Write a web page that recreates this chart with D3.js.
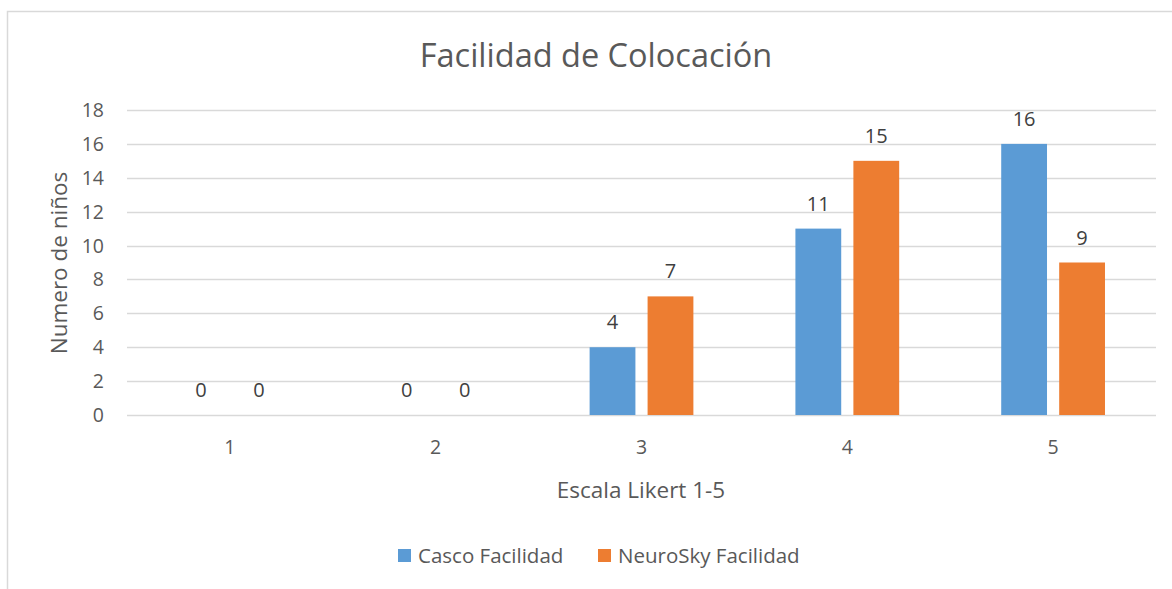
<!DOCTYPE html>
<html>
<head>
<meta charset="utf-8">
<script src="https://cdnjs.cloudflare.com/ajax/libs/d3/7.8.5/d3.min.js"></script>
<style>
  body { margin: 0; background: #fff; }
  svg { display: block; font-family: "Open Sans", Lato, sans-serif; }
</style>
</head>
<body>
<svg id="chart" width="1172" height="589"></svg>
<script>
// chart data
const categories = ['1', '2', '3', '4', '5'];
const seriesNames = ['Casco Facilidad', 'NeuroSky Facilidad'];
const cascoValues = [0, 0, 4, 11, 16];
const neuroskyValues = [0, 0, 7, 15, 9];
const yTicks = [0, 2, 4, 6, 8, 10, 12, 14, 16, 18];

const colors = ['#5B9BD5', '#ED7D31'];
const width = 1172, height = 589;
const margin = {left: 127, right: 16, top: 110, bottom: 174};

const svg = d3.select('#chart');

// chart area border (only top/left visible in the crop)
svg.append('rect')
  .attr('x', 7.5).attr('y', 11.5)
  .attr('width', width + 20).attr('height', height + 20)
  .style('fill', 'none')
  .style('stroke', '#D9D9D9')
  .style('stroke-width', 1.5);

const x = d3.scaleBand()
  .domain(categories)
  .range([margin.left, width - margin.right])
  .paddingInner(0).paddingOuter(0);

const xSub = d3.scaleBand()
  .domain(seriesNames)
  .range([0, x.bandwidth()])
  .paddingInner(0.21)
  .paddingOuter(0.88);

const y = d3.scaleLinear()
  .domain([0, 18])
  .range([height - margin.bottom, margin.top]);

// gridlines
svg.append('g')
  .selectAll('line')
  .data(yTicks)
  .enter().append('line')
  .attr('x1', margin.left)
  .attr('x2', width - margin.right)
  .attr('y1', d => Math.round(y(d)) + 0.5)
  .attr('y2', d => Math.round(y(d)) + 0.5)
  .style('stroke', '#D9D9D9')
  .style('stroke-width', 1.5);

// y tick labels
svg.append('g')
  .selectAll('text')
  .data(yTicks)
  .enter().append('text')
  .attr('x', 104)
  .attr('y', d => y(d))
  .attr('dy', '0.36em')
  .attr('text-anchor', 'end')
  .style('font-size', '19.5px')
  .style('fill', '#595959')
  .text(d => d);

// x category labels
svg.append('g')
  .selectAll('text')
  .data(categories)
  .enter().append('text')
  .attr('x', d => x(d) + x.bandwidth() / 2)
  .attr('y', 454)
  .attr('text-anchor', 'middle')
  .style('font-size', '19.5px')
  .style('fill', '#595959')
  .text(d => d);

// bars
const rows = categories.map((c, i) => ({cat: c, values: [cascoValues[i], neuroskyValues[i]]}));

const groups = svg.append('g')
  .selectAll('g')
  .data(rows)
  .enter().append('g')
  .attr('transform', d => 'translate(' + x(d.cat) + ',0)');

groups.selectAll('rect')
  .data(d => d.values.map((v, j) => ({name: seriesNames[j], value: v, idx: j})))
  .enter().append('rect')
  .attr('x', d => xSub(d.name))
  .attr('width', xSub.bandwidth())
  .attr('y', d => y(d.value))
  .attr('height', d => y(0) - y(d.value))
  .style('fill', d => colors[d.idx]);

// data labels
groups.selectAll('text')
  .data(d => d.values.map((v, j) => ({name: seriesNames[j], value: v})))
  .enter().append('text')
  .attr('x', d => xSub(d.name) + xSub.bandwidth() / 2)
  .attr('y', d => y(d.value) - 18)
  .attr('text-anchor', 'middle')
  .style('font-size', '20px')
  .style('fill', '#404040')
  .text(d => d.value);

// title
svg.append('text')
  .attr('x', 596)
  .attr('y', 67)
  .attr('text-anchor', 'middle')
  .style('font-size', '32.5px')
  .style('fill', '#595959')
  .text('Facilidad de Colocación');

// axis titles
svg.append('text')
  .attr('x', 641)
  .attr('y', 498)
  .attr('text-anchor', 'middle')
  .style('font-size', '22.5px')
  .style('fill', '#595959')
  .text('Escala Likert 1-5');

svg.append('text')
  .attr('transform', 'translate(67,263) rotate(-90)')
  .attr('text-anchor', 'middle')
  .style('font-size', '22.5px')
  .style('fill', '#595959')
  .text('Numero de niños');

// legend
const legendX = [398, 598];
const legend = svg.append('g')
  .selectAll('g')
  .data(seriesNames)
  .enter().append('g')
  .attr('transform', (d, i) => 'translate(' + legendX[i] + ',549)');

legend.append('rect')
  .attr('width', 13).attr('height', 13)
  .style('fill', (d, i) => colors[i]);

legend.append('text')
  .attr('x', 20)
  .attr('y', 7)
  .attr('dy', '0.35em')
  .style('font-size', '20.5px')
  .style('fill', '#595959')
  .text(d => d);
</script>
</body>
</html>
